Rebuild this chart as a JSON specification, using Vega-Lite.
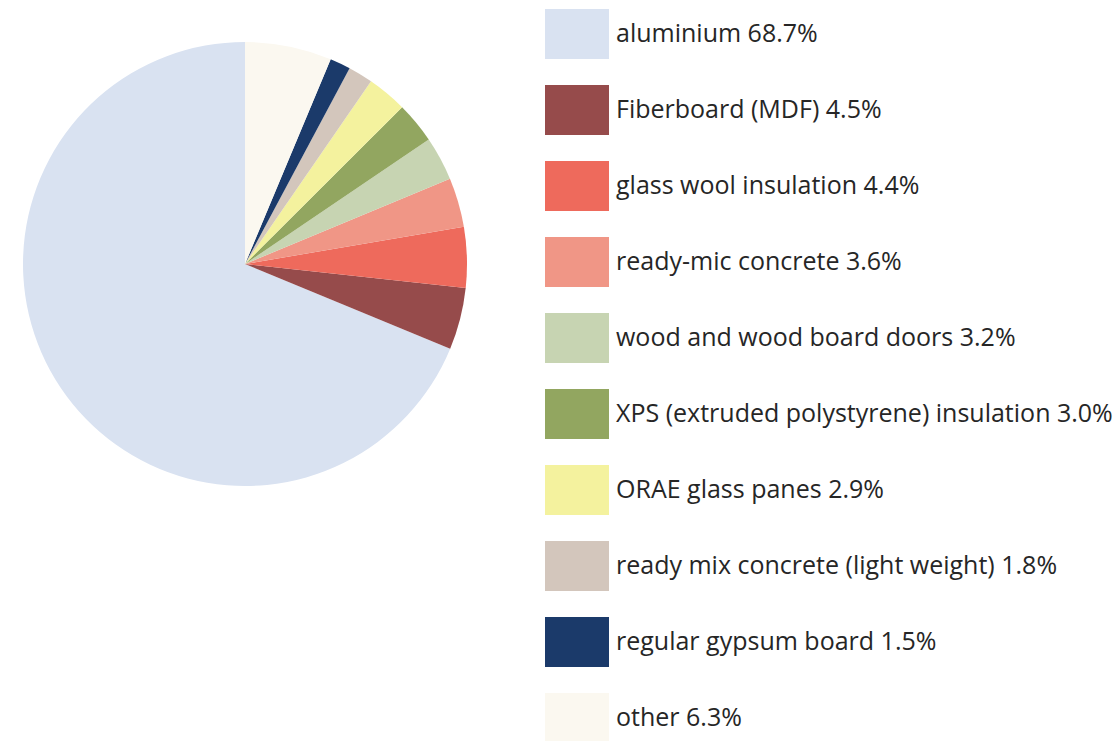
{
  "$schema": "https://vega.github.io/schema/vega-lite/v6.json",
  "width": 490,
  "height": 528,
  "padding": 0,
  "autosize": {"type": "pad"},
  "background": "white",
  "config": {"view": {"stroke": null}},
  "data": {
    "values": [
      {"material": "aluminium 68.7%", "share": 68.7, "rank": 10},
      {"material": "Fiberboard (MDF) 4.5%", "share": 4.5, "rank": 9},
      {"material": "glass wool insulation 4.4%", "share": 4.4, "rank": 8},
      {"material": "ready-mic concrete 3.6%", "share": 3.6, "rank": 7},
      {"material": "wood and wood board doors 3.2%", "share": 3.2, "rank": 6},
      {"material": "XPS (extruded polystyrene) insulation 3.0%", "share": 3.0, "rank": 5},
      {"material": "ORAE glass panes 2.9%", "share": 2.9, "rank": 4},
      {"material": "ready mix concrete (light weight) 1.8%", "share": 1.8, "rank": 3},
      {"material": "regular gypsum board 1.5%", "share": 1.5, "rank": 2},
      {"material": "other 6.3%", "share": 6.3, "rank": 1}
    ]
  },
  "mark": {"type": "arc", "outerRadius": 222},
  "encoding": {
    "theta": {"field": "share", "type": "quantitative", "stack": true},
    "order": {"field": "rank", "type": "quantitative"},
    "color": {
      "field": "material",
      "type": "nominal",
      "scale": {
        "domain": ["aluminium 68.7%", "Fiberboard (MDF) 4.5%", "glass wool insulation 4.4%", "ready-mic concrete 3.6%", "wood and wood board doors 3.2%", "XPS (extruded polystyrene) insulation 3.0%", "ORAE glass panes 2.9%", "ready mix concrete (light weight) 1.8%", "regular gypsum board 1.5%", "other 6.3%"],
        "range": ["#d9e2f1", "#964b4b", "#ee6a5c", "#f09686", "#c7d4b2", "#92a660", "#f4f29e", "#d3c6bc", "#1b3a6a", "#fbf8f0"]
      },
      "legend": {
        "title": null,
        "orient": "none",
        "legendX": 545,
        "legendY": 2,
        "symbolType": "M-1,-0.78H1V0.78H-1Z",
        "symbolSize": 4096,
        "symbolStrokeWidth": 0,
        "symbolOpacity": 1,
        "labelFont": "Open Sans",
        "labelFontSize": 25,
        "labelColor": "#262626",
        "labelOffset": 7,
        "labelLimit": 700,
        "rowPadding": 19,
        "padding": 0
      }
    }
  }
}
